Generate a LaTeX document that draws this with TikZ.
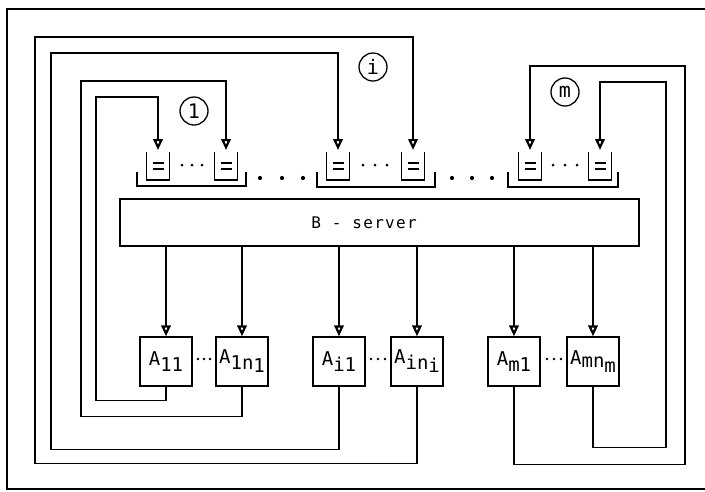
\documentclass[tikz,border=0pt]{standalone}
\usepackage{fontspec}
\newfontfamily\labfont{DejaVu Sans Mono}
\newfontfamily\srvfont[LetterSpace=8]{DejaVu Sans Mono}
\usetikzlibrary{arrows.meta}
\newcommand\lowr[2][6pt]{\raisebox{-#1}{#2}}
\begin{document}
\begin{tikzpicture}[x=1pt,y=-1pt,
  tip/.style={-{Triangle[open,length=11pt,width=9.5pt,line width=2.2pt]}},
  fb/.style={line width=1.5pt, tip},
  downarr/.style={line width=1.4pt, tip},
  abox/.style={draw, line width=1.4pt, minimum width=52pt, minimum height=49pt, inner sep=0pt, font=\fontsize{19}{19}\labfont},
  circ/.style={draw, circle, line width=1.3pt, minimum size=28pt, inner sep=0pt, font=\fontsize{20}{20}\labfont},
  bracket/.style={line width=1.4pt},
  qbox/.pic={
    \draw[line width=1.5pt] (-11.5,0) -- (-11.5,28) -- (11.5,28) -- (11.5,0);
    \draw[line width=1.3pt] (-5.5,11) -- (5.5,11) (-5.5,17) -- (5.5,17);
  },
]
\useasboundingbox (0,0) rectangle (705,491);
% frame
\draw[line width=1.6pt] (705,9) -- (7,9) -- (7,489) -- (705,489);

% server
\node[draw, line width=1.4pt, minimum width=519pt, minimum height=47pt, inner sep=0pt] (srv) at (379.5,222.5) {};
\node[font=\fontsize{16}{16}\srvfont, inner sep=0pt] (srvlabel) at (364,223) {B - server};

% queues
\foreach \n/\x in {q11/158, q1n/226, qi1/338, qin/413, qm1/530, qmn/600}{
  \path (\x,152) pic{qbox};
  \coordinate (\n) at (\x,150);
}
% group brackets
\draw[bracket] (137,172) -- (137,186) -- (246,186) -- (246,172);
\draw[bracket] (317,172) -- (317,187) -- (435,187) -- (435,172);
\draw[bracket] (508,172) -- (508,187) -- (618,187) -- (618,172);
% dots in groups
\foreach \x in {182,192,202, 363,375,387, 553,565,577} \fill (\x,165) circle (1.5pt);
% dots between groups
\foreach \x in {260,282,303, 452,472,492} \fill (\x,178) circle (2.1pt);

% circles
\node[circ] (c1) at (194,111) {1};
\node[circ] (ci) at (373,67) {i};
\node[circ] (cm) at (565,92) {m};

% A boxes
\node[abox] (a11) at (166,361.5) {A\lowr{11}};
\node[abox] (a1n) at (242,361.5) {A\lowr{1n\lowr[3pt]{1}}};
\node[abox] (ai1) at (339,361.5) {A\lowr{i1}};
\node[abox] (ain) at (417,361.5) {A\lowr{in\lowr[3pt]{i}}};
\node[abox] (am1) at (514,361.5) {A\lowr{m1}};
\node[abox] (amn) at (593,361.5) {A\lowr[3pt]{mn\lowr[5pt]{m}}};
% dots between A boxes
\foreach \x in {198,204,210, 371,378,385, 547,554,561} \fill (\x,359) circle (1.4pt);

% server to A
\foreach \a in {a11,a1n,ai1,ain,am1,amn}
  \draw[downarr] (\a.north |- srv.south) -- (\a.north);

% feedback loops
\draw[fb] (a11.south) -- ++(0,14) -| (96,97) -| (q11);
\draw[fb] (a1n.south) -- ++(0,30) -| (81,81) -| (q1n);
\draw[fb] (ai1.south) -- ++(0,63) -| (51,53) -| (qi1);
\draw[fb] (ain.south) -- ++(0,77) -| (35,37) -| (qin);
\draw[fb] (am1.south) -- ++(0,78) -| (685,66) -| (qm1);
\draw[fb] (amn.south) -- ++(0,61) -| (666,82) -| (qmn);
\end{tikzpicture}
\end{document}
